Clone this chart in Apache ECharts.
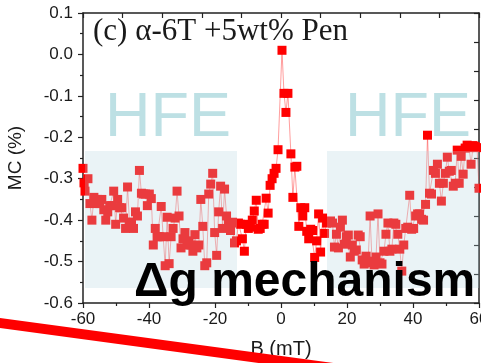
<!DOCTYPE html>
<html><head><meta charset="utf-8">
<script src="https://cdn.jsdelivr.net/npm/echarts@6/dist/echarts.min.js"></script>
<style>html,body{margin:0;padding:0;background:#fff}#c{width:481px;height:363px}</style>
</head><body><div id="c"></div>
<script>
var xTicks = [-60, -40, -20, 0, 20, 40, 60];
var yTicks = [-0.6, -0.5, -0.4, -0.3, -0.2, -0.1, 0.0, 0.1];
var Bx = [-60.0,-59.7,-59.4,-58.5,-57.9,-57.3,-56.7,-56.1,-55.5,-54.9,-54.3,-53.7,-53.1,-52.5,-51.9,-51.3,-50.7,-50.1,-49.5,-48.9,
-48.3,-47.7,-47.1,-46.5,-45.9,-45.3,-44.7,-44.1,-43.5,-42.9,-42.3,-41.7,-41.1,-40.5,-39.9,-39.3,-38.7,-38.1,-37.5,-36.9,
-36.3,-35.7,-35.1,-34.5,-33.9,-33.3,-32.7,-32.1,-31.5,-30.9,-30.3,-29.7,-29.1,-28.5,-27.9,-27.3,-26.7,-26.1,-25.5,-24.9,
-24.3,-23.7,-23.1,-22.5,-21.9,-21.3,-20.7,-20.1,-19.5,-18.9,-18.3,-17.7,-17.1,-16.5,-15.9,-15.3,-14.7,-14.1,-13.5,-12.9,
-12.3,-11.7,-11.1,-10.5,-9.9,-9.3,-8.7,-8.1,-7.5,-6.9,-6.3,-5.7,-5.1,-4.5,-3.9,-3.3,-2.7,-2.1,-1.5,-0.9,
0.3,0.9,1.5,2.1,3.0,3.6,4.2,4.8,5.4,6.0,6.6,7.2,7.8,8.4,9.0,9.6,10.2,10.8,11.4,12.0,
12.6,13.2,13.8,14.4,15.0,15.6,16.2,16.8,17.4,18.0,18.6,19.2,19.8,20.4,21.0,21.6,22.2,22.8,23.4,24.0,
24.6,25.2,25.8,26.4,27.0,27.6,28.2,28.8,29.4,30.0,30.6,31.2,31.8,32.4,33.0,33.6,34.2,34.8,35.4,36.0,
36.6,37.2,37.8,38.4,39.0,39.6,40.2,40.8,41.4,42.0,42.6,43.2,43.8,44.4,45.0,45.6,46.2,46.8,47.4,48.0,
48.6,49.2,49.8,50.4,51.0,51.6,52.2,52.8,53.4,54.0,54.6,55.2,55.8,56.4,57.0,57.6,58.2,58.8,59.4,60.0];
var MC = [-0.275,-0.31,-0.33,-0.30,-0.36,-0.40,-0.345,-0.36,-0.35,-0.36,-0.35,-0.375,-0.40,-0.38,-0.365,-0.365,-0.33,-0.41,-0.35,-0.37,
-0.37,-0.395,-0.42,-0.32,-0.405,-0.405,-0.42,-0.38,-0.39,-0.28,-0.335,-0.337,-0.337,-0.365,-0.337,-0.348,-0.46,-0.42,-0.44,-0.44,
-0.367,-0.44,-0.51,-0.393,-0.505,-0.44,-0.42,-0.395,-0.33,-0.39,-0.467,-0.445,-0.43,-0.46,-0.45,-0.46,-0.475,-0.435,-0.467,-0.46,
-0.35,-0.415,-0.51,-0.503,-0.337,-0.313,-0.287,-0.43,-0.485,-0.38,-0.318,-0.42,-0.325,-0.39,-0.407,-0.425,-0.405,-0.455,-0.45,-0.407,
-0.41,-0.445,-0.475,-0.41,-0.42,-0.417,-0.40,-0.378,-0.352,-0.422,-0.42,-0.41,-0.41,-0.347,-0.383,-0.316,-0.30,-0.287,-0.275,-0.23,
0.01,-0.094,-0.14,-0.094,-0.24,-0.345,-0.272,-0.27,-0.415,-0.37,-0.39,-0.37,-0.427,-0.445,-0.422,-0.425,-0.49,-0.45,-0.385,-0.477,
-0.395,-0.432,-0.407,-0.405,-0.402,-0.407,-0.465,-0.434,-0.467,-0.417,-0.40,-0.458,-0.44,-0.436,-0.489,-0.46,-0.475,-0.472,-0.436,-0.44,
-0.496,-0.506,-0.487,-0.499,-0.39,-0.503,-0.508,-0.489,-0.385,-0.503,-0.506,-0.475,-0.434,-0.407,-0.475,-0.47,-0.407,-0.41,-0.434,-0.47,
-0.523,-0.46,-0.42,-0.417,-0.34,-0.422,-0.42,-0.39,-0.385,-0.385,-0.398,-0.40,-0.362,-0.195,-0.335,-0.337,-0.28,-0.287,-0.265,-0.311,
-0.354,-0.311,-0.287,-0.248,-0.282,-0.28,-0.318,-0.311,-0.231,-0.311,-0.246,-0.289,-0.226,-0.219,-0.225,-0.265,-0.22,-0.222,-0.225,-0.323];

var data = Bx.map(function (x, i) { return [x, MC[i]]; });
var axisCol = '#222';
var lblFont = 'Arial, "Liberation Sans", sans-serif';
var chart = echarts.init(document.getElementById('c'), null, {renderer: 'canvas'});
chart.setOption({
  animation: false,
  backgroundColor: '#fff',
  grid: {left: 83, right: 2, top: 13, bottom: 60, containLabel: false, outerBoundsMode: 'none'},
  xAxis: [{
    type: 'value', min: xTicks[0], max: xTicks[xTicks.length - 1], interval: 20,
    name: 'B (mT)', nameLocation: 'middle', nameGap: 36, nameMoveOverlap: false,
    nameTextStyle: {fontFamily: lblFont, fontSize: 20, color: '#1a1a1a'},
    axisLine: {show: true, onZero: false, lineStyle: {color: axisCol, width: 1.5}},
    axisTick: {show: true, inside: false, length: 5, lineStyle: {color: axisCol, width: 1.2}},
    minorTick: {show: true, splitNumber: 2, length: 3, lineStyle: {color: axisCol, width: 1.2}},
    axisLabel: {margin: 8, fontFamily: lblFont, fontSize: 17, color: '#1a1a1a', hideOverlap: false},
    splitLine: {show: false}
  }, {
    type: 'value', position: 'top', min: 0, max: 10, interval: 1,
    axisLine: {show: true, onZero: false, lineStyle: {color: axisCol, width: 1.5}},
    axisTick: {show: true, inside: true, length: 5, lineStyle: {color: axisCol, width: 1.2}},
    axisLabel: {show: false}, splitLine: {show: false}
  }],
  yAxis: [{
    type: 'value', min: yTicks[0], max: yTicks[yTicks.length - 1], interval: 0.1,
    name: 'MC (%)', nameLocation: 'middle', nameGap: 58,
    nameTextStyle: {fontFamily: lblFont, fontSize: 19, color: '#1a1a1a'},
    axisLine: {show: true, onZero: false, lineStyle: {color: axisCol, width: 1.5}},
    axisTick: {show: true, inside: false, length: 5, lineStyle: {color: axisCol, width: 1.2}},
    minorTick: {show: true, splitNumber: 2, length: 3, lineStyle: {color: axisCol, width: 1.2}},
    axisLabel: {margin: 10, fontFamily: lblFont, fontSize: 17, color: '#1a1a1a',
      formatter: function (v) { return (Math.abs(v) < 1e-9 ? 0 : v).toFixed(1); }},
    splitLine: {show: false}
  }, {
    type: 'value', position: 'right', min: 0, max: 10, interval: 1,
    axisLine: {show: true, onZero: false, lineStyle: {color: axisCol, width: 1.5}},
    axisTick: {show: true, inside: true, length: 5, lineStyle: {color: axisCol, width: 1.2}},
    axisLabel: {show: false}, splitLine: {show: false}
  }],
  series: [{
    type: 'line', xAxisIndex: 0, yAxisIndex: 0, data: data,
    symbol: 'rect', symbolSize: 9, showAllSymbol: true,
    itemStyle: {color: '#ff0000'},
    lineStyle: {color: 'rgba(255,40,40,0.45)', width: 1},
    z: 2
  }],
  graphic: [
    {type: 'rect', z: 10, shape: {x: 85, y: 151, width: 152, height: 137}, style: {fill: 'rgba(180,213,224,0.28)'}},
    {type: 'rect', z: 10, shape: {x: 327, y: 151, width: 152, height: 137}, style: {fill: 'rgba(180,213,224,0.28)'}},
    {type: 'text', z: 11, x: 105, y: 119, style: {text: 'HFE', font: '63px Arial, "Liberation Sans", sans-serif', fill: '#bde0e4', textVerticalAlign: 'middle'}},
    {type: 'text', z: 11, x: 345, y: 119, style: {text: 'HFE', font: '63px Arial, "Liberation Sans", sans-serif', fill: '#bde0e4', textVerticalAlign: 'middle'}},
    {type: 'text', z: 12, x: 93, y: 32, style: {text: '(c) α-6T +5wt% Pen', font: '31px "Liberation Serif", "Times New Roman", serif', fill: '#1a1a1a', textVerticalAlign: 'middle'}},
    {type: 'text', z: 12, x: 134, y: 283, style: {text: 'Δg mechanism', font: 'bold 48px Arial, "Liberation Sans", sans-serif', fill: '#000', textVerticalAlign: 'middle'}},
    {type: 'line', z: 13, shape: {x1: -10, y1: 321.7, x2: 490, y2: 389.2}, style: {stroke: '#fe0000', lineWidth: 10}}
  ]
});
</script></body></html>
